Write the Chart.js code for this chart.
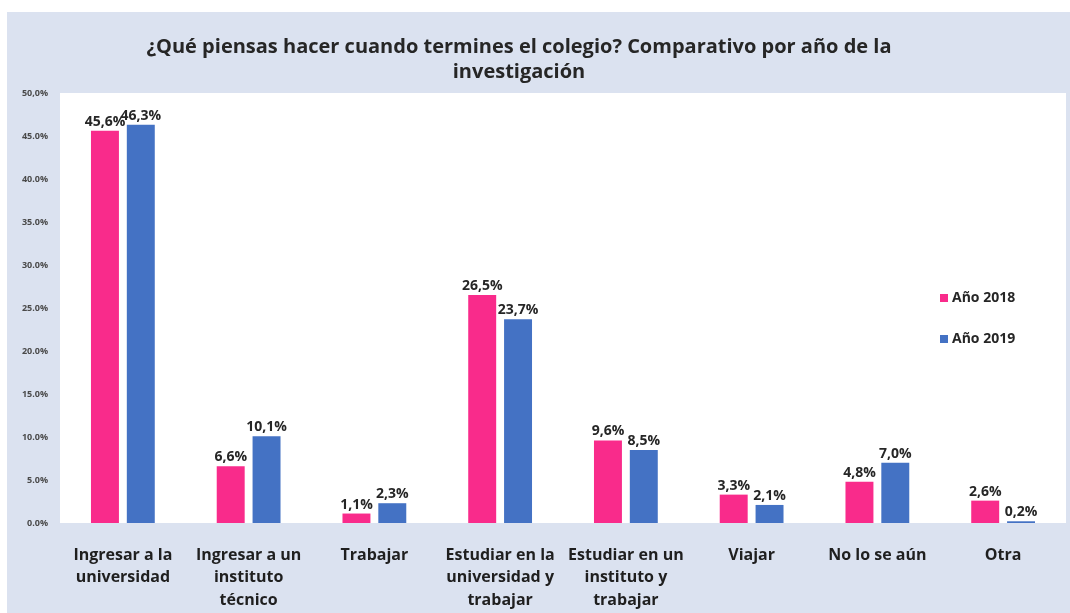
<!DOCTYPE html>
<html>
<head>
<meta charset="utf-8">
<script src="https://cdn.jsdelivr.net/npm/chart.js@4.4.1/dist/chart.umd.min.js"></script>
<style>
    html, body { margin: 0; padding: 0; background: #ffffff; }
    #caja {
        position: absolute;
        left: 7px; top: 12px;
        width: 1063px; height: 601px;
        background: #dbe2f0;
    }
</style>
</head>
<body>
<div id="caja"><canvas id="grafico" width="1063" height="601"></canvas></div>
<script>
const categorias = [
    ['Ingresar a la', 'universidad'],
    ['Ingresar a un', 'instituto', 'técnico'],
    ['Trabajar'],
    ['Estudiar en la', 'universidad y', 'trabajar'],
    ['Estudiar en un', 'instituto y', 'trabajar'],
    ['Viajar'],
    ['No lo se aún'],
    ['Otra']
];
const valores2018 = [45.6, 6.6, 1.1, 26.5, 9.6, 3.3, 4.8, 2.6];
const valores2019 = [46.3, 10.1, 2.3, 23.7, 8.5, 2.1, 7.0, 0.2];
const etiquetasY = ['0.0%', '5.0%', '10.0%', '15.0%', '20.0%', '25.0%', '30.0%', '35.0%', '40.0%', '45.0%', '50,0%'];
const tituloLineas = ['¿Qué piensas hacer cuando termines el colegio? Comparativo por año de la', 'investigación'];

const fuente = '"Open Sans", Lato, sans-serif';
const formatear = v => v.toFixed(1).replace('.', ',') + '%';

// fondo blanco del area de trazado
const fondoPlot = {
    id: 'fondoPlot',
    beforeDraw(chart) {
        const { ctx, chartArea } = chart;
        ctx.save();
        ctx.fillStyle = '#ffffff';
        ctx.fillRect(chartArea.left, chartArea.top, chartArea.right - chartArea.left, chartArea.bottom - chartArea.top);
        ctx.restore();
    }
};

// titulo, etiquetas y leyenda dibujados a mano
const extras = {
    id: 'extras',
    afterDatasetsDraw(chart) {
        const ctx = chart.ctx;
        ctx.save();
        ctx.fillStyle = '#262626';
        ctx.textAlign = 'center';
        ctx.textBaseline = 'alphabetic';
        ctx.font = 'bold 14px ' + fuente;
        chart.data.datasets.forEach((ds, i) => {
            chart.getDatasetMeta(i).data.forEach((bar, j) => {
                ctx.fillText(formatear(ds.data[j]), bar.x, bar.y - 5);
            });
        });

        ctx.font = 'bold 20px ' + fuente;
        ctx.textBaseline = 'middle';
        tituloLineas.forEach((t, k) => ctx.fillText(t, 512, 35 + k * 25));

        ctx.font = 'bold 14px ' + fuente;
        ctx.textAlign = 'left';
        chart.data.datasets.forEach((ds, i) => {
            const y = 286 + i * 41;
            ctx.fillStyle = ds.backgroundColor;
            ctx.fillRect(933, y - 4, 8, 8);
            ctx.fillStyle = '#262626';
            ctx.fillText(ds.label, 945, y);
        });
        ctx.restore();
    }
};

new Chart(document.getElementById('grafico'), {
    type: 'bar',
    data: {
        labels: categorias,
        datasets: [
            { label: 'Año 2018', data: valores2018, backgroundColor: '#f92b8b' },
            { label: 'Año 2019', data: valores2019, backgroundColor: '#4472c4' }
        ]
    },
    options: {
        responsive: false,
        animation: false,
        categoryPercentage: 0.57,
        barPercentage: 0.78,
        layout: { padding: { left: 0, right: 4, top: 81, bottom: 0 } },
        plugins: {
            legend: { display: false },
            title: { display: false },
            tooltip: { enabled: false }
        },
        scales: {
            x: {
                grid: { display: false },
                border: { display: false },
                ticks: {
                    color: '#1f1f1f',
                    font: { family: fuente, size: 16, weight: 'bold', lineHeight: 1.4 },
                    padding: 13,
                    maxRotation: 0,
                    autoSkip: false
                },
                afterFit(scale) { scale.height = 90; }
            },
            y: {
                min: 0,
                max: 50,
                grid: { display: false },
                border: { display: false },
                ticks: {
                    stepSize: 5,
                    color: '#4a4a4a',
                    font: { family: fuente, size: 9, weight: 'bold' },
                    padding: 4,
                    callback: (v, i) => etiquetasY[i]
                },
                afterFit(scale) { scale.width = 53; }
            }
        }
    },
    plugins: [fondoPlot, extras]
});
</script>
</body>
</html>
